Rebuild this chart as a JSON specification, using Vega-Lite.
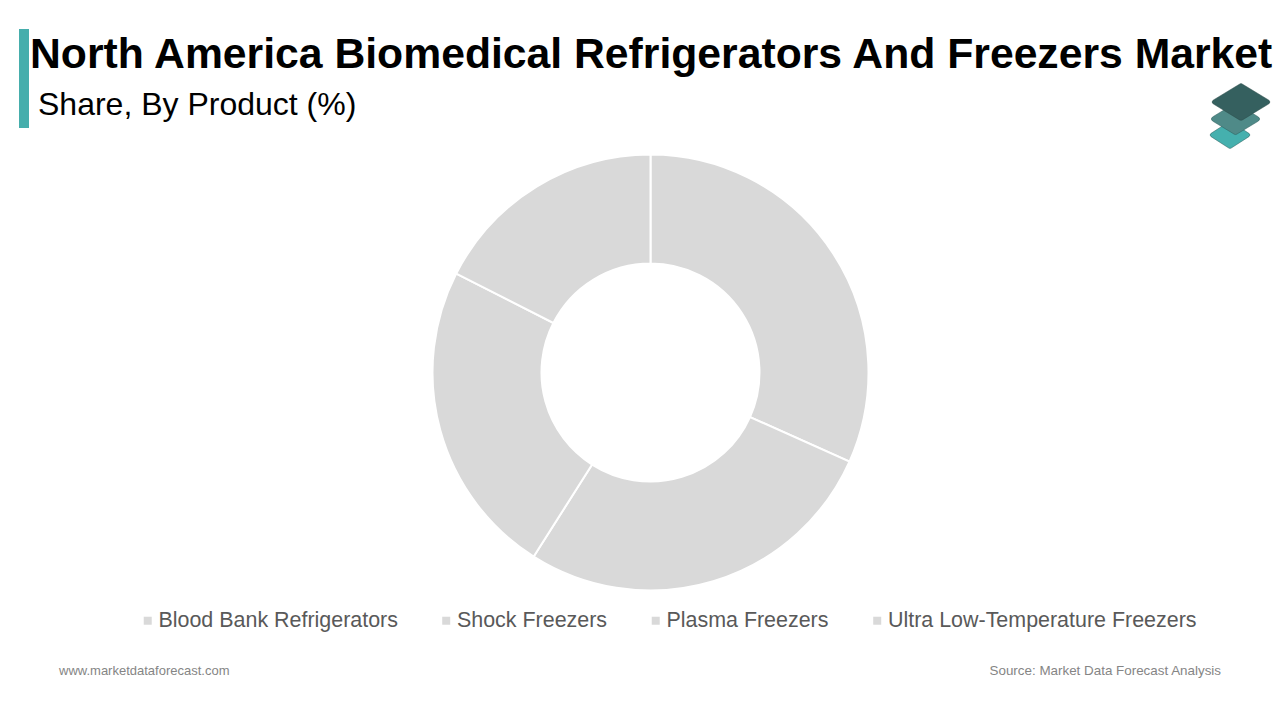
{"$schema":"https://vega.github.io/schema/vega-lite/v6.json","width":1280,"height":620,"autosize":"none","padding":{"left":0,"top":100,"right":0,"bottom":0},"background":"white","view":{"stroke":null},"title":{"text":"North America Biomedical Refrigerators And Freezers Market","anchor":"start","frame":"group","offset":0,"dx":30,"dy":47.5,"font":"Liberation Sans","fontSize":42.7,"fontWeight":"bold","color":"#000000"},"layer":[{"data":{"values":[{"product":"Blood Bank Refrigerators","share":31.7,"rank":1},{"product":"Shock Freezers","share":27.3,"rank":2},{"product":"Plasma Freezers","share":23.5,"rank":3},{"product":"Ultra Low-Temperature Freezers","share":17.5,"rank":4}]},"mark":{"type":"arc","outerRadius":218,"innerRadius":109,"stroke":"white","strokeWidth":2,"x":650.5,"y":272.5},"encoding":{"theta":{"field":"share","type":"quantitative","stack":true},"order":{"field":"rank","type":"ordinal"},"color":{"field":"product","type":"nominal","scale":{"domain":["Blood Bank Refrigerators","Shock Freezers","Plasma Freezers","Ultra Low-Temperature Freezers"],"range":["#d9d9d9","#d9d9d9","#d9d9d9","#d9d9d9"]},"legend":{"title":null,"orient":"none","direction":"horizontal","columns":4,"gridAlign":"none","legendX":137,"legendY":510,"symbolType":"square","symbolSize":64,"symbolStrokeWidth":0,"labelFont":"Liberation Sans","labelFontSize":21.45,"labelColor":"#595959","labelOffset":0,"columnPadding":37.5,"labelLimit":400}}}},{"data":{"values":[{}]},"mark":{"type":"rect","x":19,"x2":29,"y":-71,"y2":28,"fill":"#46aeac"}},{"data":{"values":[{}]},"mark":{"type":"text","text":"Share, By Product (%)","x":38,"y":15,"align":"left","baseline":"alphabetic","font":"Liberation Sans","fontSize":32,"color":"#000000"}},{"data":{"values":[{}]},"mark":{"type":"text","text":"www.marketdataforecast.com","x":59,"y":571,"align":"left","baseline":"middle","font":"Liberation Sans","fontSize":13,"color":"#858585"}},{"data":{"values":[{}]},"mark":{"type":"text","text":"Source: Market Data Forecast Analysis","x":1221,"y":571,"align":"right","baseline":"middle","font":"Liberation Sans","fontSize":13.4,"color":"#858585"}},{"data":{"values":[{}]},"mark":{"type":"point","shape":"M0,-0.66 L0.9,-0.08 Q1,0 0.9,0.08 L0.06,0.62 Q0,0.66 -0.06,0.62 L-0.9,0.08 Q-1,0 -0.9,-0.08 Z","size":1764,"x":1230,"y":35,"filled":true,"fill":"#45b0ae","stroke":"#2a5a58","strokeWidth":0.5,"opacity":1}},{"data":{"values":[{}]},"mark":{"type":"point","shape":"M0,-0.63 L0.9,-0.08 Q1,0 0.9,0.08 L0.06,0.59 Q0,0.63 -0.06,0.59 L-0.9,0.08 Q-1,0 -0.9,-0.08 Z","size":2601,"x":1235.5,"y":19,"filled":true,"fill":"#4f8a88","stroke":"#2a5a58","strokeWidth":0.5,"opacity":1}},{"data":{"values":[{}]},"mark":{"type":"point","shape":"M-0.04,-0.6 Q0,-0.63 0.04,-0.6 L0.93,-0.06 Q1,0 0.93,0.06 L0.06,0.59 Q0,0.63 -0.06,0.59 L-0.93,0.06 Q-1,0 -0.93,-0.06 Z","size":3600,"x":1241,"y":2,"filled":true,"fill":"#35605f","stroke":"#2a4a48","strokeWidth":0.5,"opacity":1}}]}
